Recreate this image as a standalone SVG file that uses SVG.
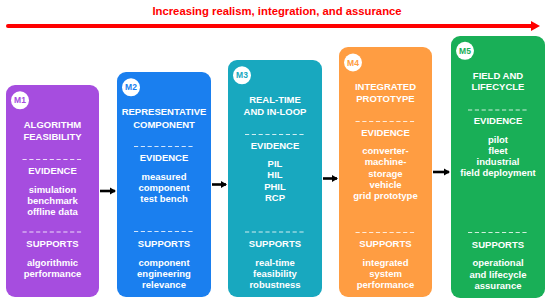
<svg xmlns="http://www.w3.org/2000/svg" width="550" height="305" viewBox="0 0 550 305">
<defs>
<style>
text{font-family:"Liberation Sans",Arial,sans-serif;font-weight:bold;text-anchor:middle}
.t{fill:#fff;font-size:9.5px}
.h{fill:#fff;font-size:9.5px}
.i{fill:#fff;font-size:9.5px}
.b{font-size:8.5px}
.d{stroke:#fff;stroke-opacity:0.8;stroke-width:1;stroke-dasharray:4.2 2.6}
.c{stroke:#000;stroke-width:2.6;fill:none}
</style>
<marker id="ah" markerWidth="8" markerHeight="8" refX="5" refY="4" orient="auto" markerUnits="userSpaceOnUse">
<path d="M0,0.5 L6,4 L0,7.5 Z" fill="#000"/>
</marker>
<marker id="rh" markerWidth="12" markerHeight="12" refX="2" refY="6" orient="auto" markerUnits="userSpaceOnUse">
<path d="M0,1 L9,6 L0,11 Z" fill="#FF0000"/>
</marker>
</defs>
<rect width="550" height="305" fill="#fff"/>
<g id="banner">
<text x="277" y="15" style="fill:#FF0000;font-size:11.3px">Increasing realism, integration, and assurance</text>
<line x1="8" y1="26" x2="533" y2="26" stroke="#FF0000" stroke-width="4" stroke-linecap="round" marker-end="url(#rh)"/>
</g>
<g id="connectors">
<line class="c" x1="100" y1="191" x2="115" y2="191" marker-end="url(#ah)"/>
<line class="c" x1="212" y1="184.5" x2="226" y2="184.5" marker-end="url(#ah)"/>
<line class="c" x1="323" y1="178.5" x2="337" y2="178.5" marker-end="url(#ah)"/>
<line class="c" x1="433" y1="172" x2="449" y2="172" marker-end="url(#ah)"/>
</g>
<g id="m1">
<rect x="6" y="85" width="93" height="212" rx="9" fill="#A64DDF"/>
<circle cx="20" cy="100.3" r="9" fill="#fff"/>
<text class="b" x="20" y="103.3" fill="#A64DDF">M1</text>
<text class="t" x="52.5" y="128">ALGORITHM</text>
<text class="t" x="52.5" y="140">FEASIBILITY</text>
<line class="d" x1="22.5" y1="159.5" x2="82.5" y2="159.5"/>
<text class="h" x="52.5" y="173.7">EVIDENCE</text>
<text class="i" x="52.5" y="192.5">simulation</text>
<text class="i" x="52.5" y="203.8">benchmark</text>
<text class="i" x="52.5" y="215.1">offline data</text>
<line class="d" x1="22.5" y1="232" x2="82.5" y2="232"/>
<text class="h" x="52.5" y="247">SUPPORTS</text>
<text class="i" x="52.5" y="265.8">algorithmic</text>
<text class="i" x="52.5" y="277.1">performance</text>
</g>
<g id="m2">
<rect x="117" y="72" width="94" height="225" rx="9" fill="#1A7FEF"/>
<circle cx="131" cy="87.3" r="9" fill="#fff"/>
<text class="b" x="131" y="90.3" fill="#1A7FEF">M2</text>
<text class="t" x="164" y="115">REPRESENTATIVE</text>
<text class="t" x="164" y="127.5">COMPONENT</text>
<line class="d" x1="134" y1="146.5" x2="194" y2="146.5"/>
<text class="h" x="164" y="161">EVIDENCE</text>
<text class="i" x="164" y="179.5">measured</text>
<text class="i" x="164" y="190.8">component</text>
<text class="i" x="164" y="202.1">test bench</text>
<line class="d" x1="134" y1="231.5" x2="194" y2="231.5"/>
<text class="h" x="164" y="247">SUPPORTS</text>
<text class="i" x="164" y="265.5">component</text>
<text class="i" x="164" y="276.8">engineering</text>
<text class="i" x="164" y="288.1">relevance</text>
</g>
<g id="m3">
<rect x="228" y="60" width="94" height="237" rx="9" fill="#18A8BF"/>
<circle cx="242" cy="75.3" r="9" fill="#fff"/>
<text class="b" x="242" y="78.3" fill="#18A8BF">M3</text>
<text class="t" x="275" y="103">REAL-TIME</text>
<text class="t" x="275" y="115">AND IN-LOOP</text>
<line class="d" x1="245" y1="134.5" x2="305" y2="134.5"/>
<text class="h" x="275" y="148.5">EVIDENCE</text>
<text class="i" x="275" y="167">PIL</text>
<text class="i" x="275" y="178.3">HIL</text>
<text class="i" x="275" y="189.6">PHIL</text>
<text class="i" x="275" y="200.9">RCP</text>
<line class="d" x1="245" y1="232" x2="305" y2="232"/>
<text class="h" x="275" y="247">SUPPORTS</text>
<text class="i" x="275" y="265.5">real-time</text>
<text class="i" x="275" y="276.8">feasibility</text>
<text class="i" x="275" y="288.1">robustness</text>
</g>
<g id="m4">
<rect x="339" y="47" width="93" height="250" rx="9" fill="#FF9D42"/>
<circle cx="353" cy="62.5" r="9" fill="#fff"/>
<text class="b" x="353" y="65.5" fill="#FF9D42">M4</text>
<text class="t" x="385.5" y="90">INTEGRATED</text>
<text class="t" x="385.5" y="102.3">PROTOTYPE</text>
<line class="d" x1="355.5" y1="121.5" x2="415.5" y2="121.5"/>
<text class="h" x="385.5" y="136">EVIDENCE</text>
<text class="i" x="385.5" y="154">converter-</text>
<text class="i" x="385.5" y="165.3">machine-</text>
<text class="i" x="385.5" y="176.6">storage</text>
<text class="i" x="385.5" y="187.9">vehicle</text>
<text class="i" x="385.5" y="199.2">grid prototype</text>
<line class="d" x1="355.5" y1="232.5" x2="415.5" y2="232.5"/>
<text class="h" x="385.5" y="247">SUPPORTS</text>
<text class="i" x="385.5" y="265.5">integrated</text>
<text class="i" x="385.5" y="276.8">system</text>
<text class="i" x="385.5" y="288.1">performance</text>
</g>
<g id="m5">
<rect x="451" y="36" width="94" height="262" rx="9" fill="#19AF57"/>
<circle cx="465" cy="50.8" r="9" fill="#fff"/>
<text class="b" x="465" y="53.8" fill="#19AF57">M5</text>
<text class="t" x="498" y="78.5">FIELD AND</text>
<text class="t" x="498" y="90.3">LIFECYCLE</text>
<line class="d" x1="468" y1="110" x2="528" y2="110"/>
<text class="h" x="498" y="124.2">EVIDENCE</text>
<text class="i" x="498" y="142.5">pilot</text>
<text class="i" x="498" y="153.8">fleet</text>
<text class="i" x="498" y="165.1">industrial</text>
<text class="i" x="498" y="176.4">field deployment</text>
<line class="d" x1="468" y1="232.5" x2="528" y2="232.5"/>
<text class="h" x="498" y="247.8">SUPPORTS</text>
<text class="i" x="498" y="266">operational</text>
<text class="i" x="498" y="277.5">and lifecycle</text>
<text class="i" x="498" y="289">assurance</text>
</g>
</svg>
